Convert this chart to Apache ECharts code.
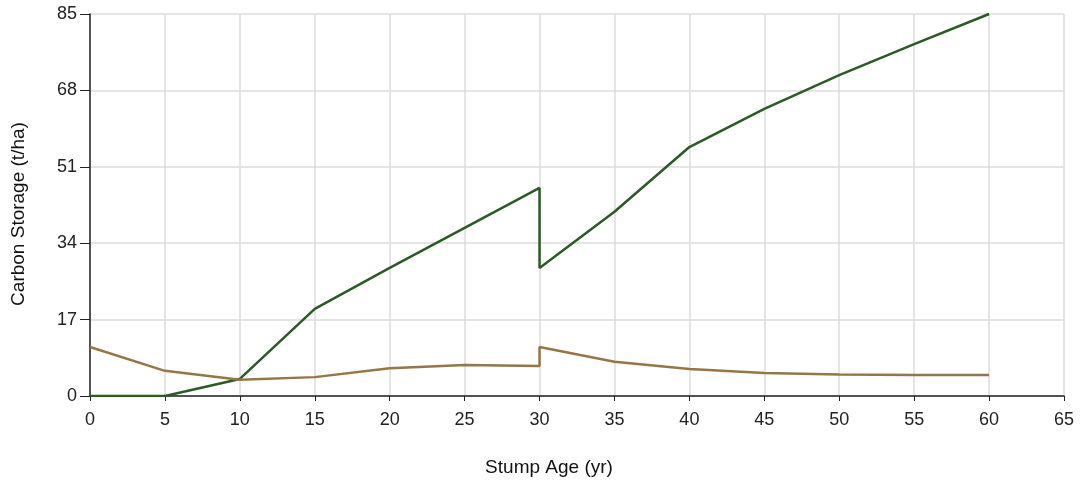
<!DOCTYPE html>
<html>
<head>
    <title>Carbon Storage</title>
    <script src="https://cdn.jsdelivr.net/npm/echarts@6.0.0/dist/echarts.min.js"></script>
</head>
<body style="margin:0">
    <div id="chart" style="width: 1080px; height: 482px;"></div>
    <script>
        // Stump age (yr); 30 appears twice for the vertical step
        var ages = [0, 5, 10, 15, 20, 25, 30, 30, 35, 40, 45, 50, 55, 60];
        var greenValues = [0, 0, 3.8, 19.4, 28.5, 37.4, 46.3, 28.5, 41, 55.4, 63.9, 71.4, 78.3, 85];
        var brownValues = [10.9, 5.6, 3.6, 4.2, 6.2, 6.9, 6.7, 10.9, 7.6, 6.0, 5.1, 4.8, 4.7, 4.7];

        function pairs(xs, ys) {
            return xs.map(function (x, i) { return [x, ys[i]]; });
        }

        var chart = echarts.init(document.querySelector("#chart"));
        var font = "Liberation Sans, Arial, sans-serif";

        var option = {
          animation: false,
          grid: { left: 90, right: 16, top: 14, bottom: 86, outerBoundsMode: 'none', containLabel: false },
          xAxis: {
            type: 'value',
            min: 0, max: 65, interval: 5,
            name: 'Stump Age (yr)',
            nameLocation: 'middle',
            nameGap: 55,
            nameTextStyle: { color: '#111', fontSize: 19, fontFamily: font, padding: [0, 56, 0, 0] },
            axisLine: { lineStyle: { color: '#222', width: 1.5 } },
            axisTick: { show: true, length: 5, lineStyle: { color: '#222' } },
            axisLabel: { color: '#222', fontSize: 18, fontFamily: font, margin: 9 },
            splitLine: { show: true, lineStyle: { color: '#dcdcdc', width: 1.5 } }
          },
          yAxis: {
            type: 'value',
            min: 0, max: 85, interval: 17,
            name: 'Carbon Storage (t/ha)',
            nameLocation: 'middle',
            nameGap: 55,
            nameTextStyle: { color: '#111', fontSize: 19, fontFamily: font, padding: [0, 18, 0, 0] },
            axisLine: { show: true, lineStyle: { color: '#222', width: 1.5 } },
            axisTick: { show: true, length: 10, lineStyle: { color: '#222' } },
            axisLabel: { color: '#222', fontSize: 18, fontFamily: font, margin: 13 },
            splitLine: { show: true, lineStyle: { color: '#dcdcdc', width: 1.5 } }
          },
          series: [
            {
              name: 'Above',
              type: 'line',
              data: pairs(ages, greenValues),
              showSymbol: false,
              lineStyle: { color: '#2b5a26', width: 2.5 },
              itemStyle: { color: '#2b5a26' }
            },
            {
              name: 'Below',
              type: 'line',
              data: pairs(ages, brownValues),
              showSymbol: false,
              lineStyle: { color: '#957646', width: 2.5 },
              itemStyle: { color: '#957646' }
            }
          ]
        };
        chart.setOption(option);
    </script>
</body>
</html>
